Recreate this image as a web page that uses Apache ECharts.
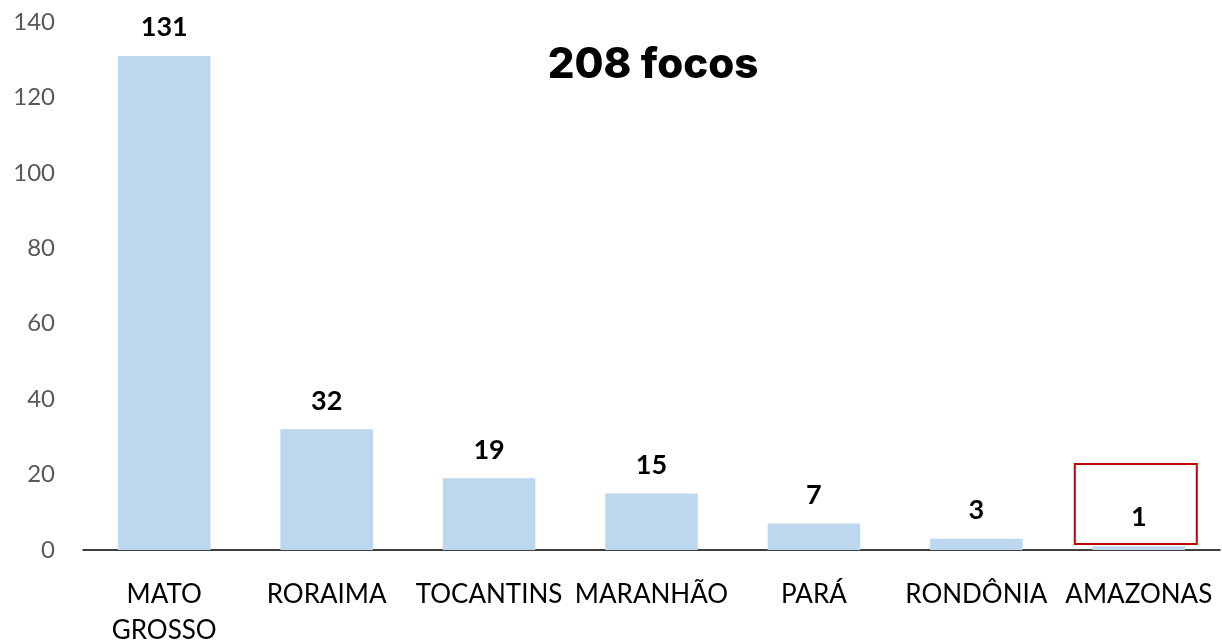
<!DOCTYPE html>
<html><head><meta charset="utf-8">
<script src="https://cdn.jsdelivr.net/npm/echarts@6/dist/echarts.min.js"></script>
<style>html,body{margin:0;padding:0;background:#fff}#c{width:1222px;height:643px}</style>
</head><body><div id="c"></div>
<script>
const categories = ['MATO\nGROSSO','RORAIMA','TOCANTINS','MARANHÃO','PARÁ','RONDÔNIA','AMAZONAS'];
const values = [131, 32, 19, 15, 7, 3, 1];
const yTicks = {min: 0, max: 140, interval: 20};
const titleText = '208 focos';
const highlightCategory = 'AMAZONAS';
const highlightRange = [1.6, 22.8];

const chart = echarts.init(document.getElementById('c'));
const font = 'Lato, "Open Sans", sans-serif';
chart.setOption({
  animation: false,
  title: {text: titleText, left: 648, top: 39, textAlign: 'center',
    textStyle: {fontFamily: 'Inter, Lato, sans-serif', fontWeight: 800, fontSize: 42, color: '#000'}},
  grid: {left: 83, right: 2, top: 22, bottom: 93, containLabel: false, outerBoundsMode: 'none'},
  xAxis: {type: 'category', data: categories,
    axisLine: {lineStyle: {color: '#000', width: 1.5}}, axisTick: {show: false},
    axisLabel: {interval: 0, color: '#000', fontSize: 26, fontFamily: font, margin: 27, lineHeight: 36}},
  yAxis: {type: 'value', min: yTicks.min, max: yTicks.max, interval: yTicks.interval,
    splitLine: {show: false}, axisLine: {show: false}, axisTick: {show: false},
    axisLabel: {color: '#595959', fontSize: 24, fontFamily: font, margin: 28}},
  series: [{type: 'bar', data: values, barWidth: '57%',
    itemStyle: {color: '#bdd7ee'},
    label: {show: true, position: 'top', distance: 15, color: '#000', fontWeight: 'bold', fontSize: 27, fontFamily: font}}]
});
const p1 = chart.convertToPixel({xAxisIndex:0, yAxisIndex:0}, [highlightCategory, highlightRange[1]]);
const p0 = chart.convertToPixel({xAxisIndex:0, yAxisIndex:0}, [highlightCategory, highlightRange[0]]);
chart.setOption({graphic: [{type: 'rect', shape: {x: p1[0]-64, y: p1[1], width: 122, height: p0[1]-p1[1]},
  style: {fill: 'none', stroke: '#c00000', lineWidth: 2}}]});
</script></body></html>
